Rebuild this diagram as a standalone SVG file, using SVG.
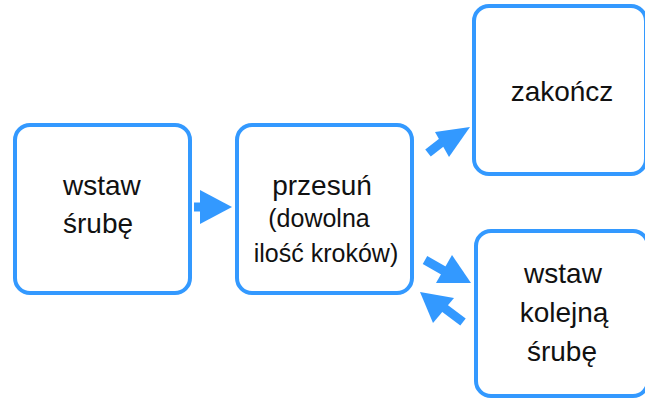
<svg xmlns="http://www.w3.org/2000/svg" width="645" height="402" viewBox="0 0 645 402">
<style>
.box{fill:#fff;stroke:#3399ff;stroke-width:4}
.t{font-family:"Liberation Sans",Arial,sans-serif;fill:#111}
.big{font-size:28px}
.sm{font-size:25px}
.shaft{stroke:#3399ff;stroke-width:9;fill:none}
.head{fill:#3399ff}
</style>
<rect width="645" height="402" fill="#fff"/>
<g id="connectors">
<line class="shaft" x1="194" y1="207" x2="204" y2="207"/>
<polygon class="head" points="200,190 232,207 200,224"/>
<line class="shaft" x1="428" y1="153" x2="446" y2="139"/>
<polygon class="head" points="470,127 435,132 449,157"/>
<line class="shaft" x1="425" y1="260" x2="446" y2="272"/>
<polygon class="head" points="471,283 452,255 436,283"/>
<line class="shaft" x1="463" y1="322" x2="443" y2="307"/>
<polygon class="head" points="420,292 454,298 433,323"/>
</g>
<g id="node1">
<rect class="box" x="15" y="125" width="175" height="168" rx="15"/>
<text class="t big" x="63" y="195">wstaw</text>
<text class="t big" x="63" y="233">śrubę</text>
</g>
<g id="node2">
<rect class="box" x="237" y="125" width="175" height="168" rx="15"/>
<text class="t big" x="322" y="195" text-anchor="middle">przesuń</text>
<text class="t sm" x="319" y="227" text-anchor="middle">(dowolna</text>
<text class="t sm" x="326" y="262" text-anchor="middle">ilość kroków)</text>
</g>
<g id="node3">
<rect class="box" x="474" y="6" width="172" height="168" rx="15"/>
<text class="t big" x="562" y="101" text-anchor="middle">zakończ</text>
</g>
<g id="node4">
<rect class="box" x="476" y="231" width="172" height="165" rx="15"/>
<text class="t big" x="563" y="283" text-anchor="middle">wstaw</text>
<text class="t big" x="564" y="322" text-anchor="middle">kolejną</text>
<text class="t big" x="562" y="361" text-anchor="middle">śrubę</text>
</g>
</svg>
